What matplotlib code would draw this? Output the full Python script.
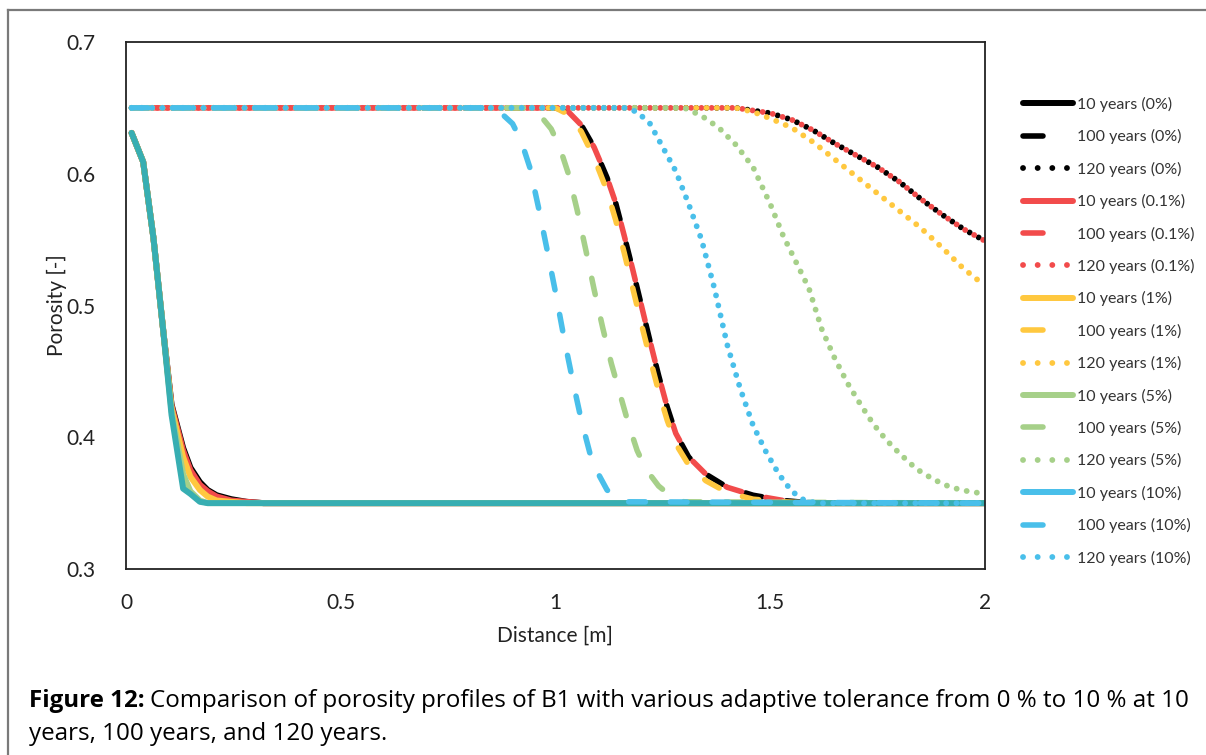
import matplotlib
matplotlib.use("Agg")
import matplotlib.pyplot as plt
from matplotlib.lines import Line2D

# ---------------- data ----------------
# 10 years
x_10yr = [0.013, 0.04, 0.064, 0.087, 0.106, 0.133, 0.15, 0.172, 0.19, 0.211, 0.245, 0.281, 0.32, 2.0]
y_10yr_0 = [0.631, 0.609, 0.551, 0.48, 0.425, 0.392, 0.377, 0.366, 0.36, 0.356, 0.353, 0.351, 0.35, 0.35]
y_10yr_01 = [0.631, 0.609, 0.551, 0.48, 0.424, 0.39, 0.375, 0.364, 0.359, 0.355, 0.352, 0.351, 0.35, 0.35]
y_10yr_1 = [0.631, 0.609, 0.551, 0.48, 0.422, 0.385, 0.37, 0.36, 0.355, 0.352, 0.351, 0.35, 0.35, 0.35]
y_10yr_5 = [0.631, 0.609, 0.551, 0.48, 0.42, 0.372, 0.359, 0.352, 0.35, 0.35, 0.35, 0.35, 0.35, 0.35]
y_10yr_10 = [0.631, 0.609, 0.551, 0.48, 0.417, 0.361, 0.357, 0.351, 0.35, 0.35, 0.35, 0.35, 0.35, 0.35]

# 100 years
x_100yr_0 = [0.013, 1.0, 1.03, 1.06, 1.09, 1.12, 1.14, 1.16, 1.18, 1.20, 1.22, 1.24, 1.26, 1.28, 1.31, 1.35, 1.40, 1.46, 1.53, 1.60, 2.0]
y_100yr_0 = [0.65, 0.65, 0.647, 0.637, 0.62, 0.597, 0.578, 0.553, 0.527, 0.5, 0.473, 0.447, 0.423, 0.403, 0.385, 0.372, 0.362, 0.356, 0.352, 0.35, 0.35]
y_100yr_01 = [0.65, 0.65, 0.647, 0.637, 0.62, 0.597, 0.578, 0.553, 0.527, 0.5, 0.473, 0.447, 0.423, 0.403, 0.385, 0.372, 0.362, 0.356, 0.352, 0.35, 0.35]
y_100yr_1 = [0.65, 0.65, 0.645, 0.632, 0.612, 0.587, 0.565, 0.54, 0.513, 0.486, 0.46, 0.435, 0.413, 0.395, 0.379, 0.367, 0.358, 0.353, 0.351, 0.35, 0.35]
x_100yr_5 = [0.013, 0.93, 0.96, 0.99, 1.01, 1.03, 1.05, 1.07, 1.09, 1.11, 1.13, 1.15, 1.17, 1.19, 1.21, 1.24, 1.27, 1.30, 2.0]
y_100yr_5 = [0.65, 0.65, 0.646, 0.634, 0.62, 0.6, 0.573, 0.543, 0.512, 0.483, 0.456, 0.433, 0.41, 0.39, 0.376, 0.363, 0.355, 0.351, 0.35]
x_100yr_10 = [0.013, 0.84, 0.87, 0.90, 0.92, 0.94, 0.96, 0.98, 1.00, 1.02, 1.04, 1.06, 1.08, 1.10, 1.12, 1.14, 1.16, 2.0]
y_100yr_10 = [0.65, 0.65, 0.647, 0.638, 0.625, 0.605, 0.575, 0.543, 0.51, 0.475, 0.443, 0.413, 0.388, 0.372, 0.36, 0.354, 0.351, 0.35]

# 120 years
x_120yr_0 = [0.013, 1.42, 1.46, 1.50, 1.55, 1.60, 1.65, 1.70, 1.75, 1.80, 1.85, 1.90, 1.95, 2.0]
y_120yr_0 = [0.65, 0.65, 0.648, 0.646, 0.641, 0.633, 0.623, 0.614, 0.605, 0.594, 0.581, 0.569, 0.558, 0.549]
y_120yr_01 = [0.65, 0.65, 0.648, 0.646, 0.641, 0.633, 0.623, 0.614, 0.605, 0.594, 0.581, 0.569, 0.558, 0.549]
y_120yr_1 = [0.65, 0.65, 0.647, 0.642, 0.635, 0.624, 0.611, 0.598, 0.585, 0.572, 0.559, 0.544, 0.528, 0.515]
x_120yr_5 = [0.013, 1.30, 1.34, 1.38, 1.42, 1.46, 1.50, 1.53, 1.56, 1.59, 1.62, 1.65, 1.68, 1.71, 1.74, 1.77, 1.80, 1.84, 1.88, 1.92, 1.96, 2.0]
y_120yr_5 = [0.65, 0.65, 0.644, 0.635, 0.622, 0.605, 0.577, 0.553, 0.533, 0.513, 0.482, 0.46, 0.441, 0.425, 0.41, 0.398, 0.388, 0.376, 0.368, 0.362, 0.359, 0.357]
x_120yr_10 = [0.013, 1.16, 1.19, 1.22, 1.25, 1.28, 1.31, 1.34, 1.37, 1.40, 1.43, 1.46, 1.49, 1.52, 1.55, 1.58, 1.61, 2.0]
y_120yr_10 = [0.65, 0.65, 0.647, 0.638, 0.62, 0.602, 0.577, 0.55, 0.513, 0.47, 0.437, 0.409, 0.389, 0.372, 0.359, 0.352, 0.35, 0.35]

tolerances = ["0%", "0.1%", "1%", "5%", "10%"]
years = ["10 years", "100 years", "120 years"]
x_ticks = [0, 0.5, 1, 1.5, 2]
x_tick_labels = ["0", "0.5", "1", "1.5", "2"]
y_ticks = [0.3, 0.4, 0.5, 0.6, 0.7]
y_tick_labels = ["0.3", "0.4", "0.5", "0.6", "0.7"]

series = {
    "0%": [(x_10yr, y_10yr_0), (x_100yr_0, y_100yr_0), (x_120yr_0, y_120yr_0)],
    "0.1%": [(x_10yr, y_10yr_01), (x_100yr_0, y_100yr_01), (x_120yr_0, y_120yr_01)],
    "1%": [(x_10yr, y_10yr_1), (x_100yr_0, y_100yr_1), (x_120yr_0, y_120yr_1)],
    "5%": [(x_10yr, y_10yr_5), (x_100yr_5, y_100yr_5), (x_120yr_5, y_120yr_5)],
    "10%": [(x_10yr, y_10yr_10), (x_100yr_10, y_100yr_10), (x_120yr_10, y_120yr_10)],
}

# ---------------- styles ----------------
colors = {"0%": "#000000", "0.1%": "#F24B4B", "1%": "#FFC83F", "5%": "#A6D089", "10%": "#49BFEA"}
plot_override = {("10%", 0): "#37AEB2"}  # overlap of blue over green renders teal in the original
W, H = 1206, 755
FONT = "Lato"
lw_solid, lw_dash, lw_dot = 4.3, 4.0, 4.2
dash_on, dash_off = 3.0, 4.5
dot_gap = 1.75

fig = plt.figure(figsize=(W / 100, H / 100), dpi=100)
ax = fig.add_axes([126 / W, 1 - 569 / H, (985 - 126) / W, (569 - 42) / H])

handles, labels = [], []
for tol in tolerances:
    for i, (xs, ys) in enumerate(series[tol]):
        c = plot_override.get((tol, i), colors[tol])
        shift = 0.5 if tol == "0.1%" else 0.0  # red dashes/dots interleave with the black ones
        if i == 0:
            ax.plot(xs, ys, color=c, lw=lw_solid, solid_capstyle="round", solid_joinstyle="round")
            h = Line2D([], [], color=colors[tol], lw=lw_solid, solid_capstyle="round")
        elif i == 1:
            ax.plot(xs, ys, color=c, lw=lw_dash,
                    linestyle=(shift * (dash_on + dash_off), (dash_on, dash_off)),
                    dash_capstyle="round")
            h = Line2D([], [], color=colors[tol], lw=lw_dash, linestyle=(0, (3.6, 9.0)), dash_capstyle="round")
        else:
            ax.plot(xs, ys, color=c, lw=lw_dot,
                    linestyle=(shift * (dot_gap + 0.01), (0.01, dot_gap)),
                    dash_capstyle="round")
            h = Line2D([], [], color=colors[tol], lw=lw_dot, linestyle=(0, (0.01, 2.5)), dash_capstyle="round")
        handles.append(h)
        labels.append(f"{years[i]} ({tol})")

ax.set_xlim(0, 2)
ax.set_ylim(0.3, 0.7)
ax.set_xticks(x_ticks)
ax.set_xticklabels(x_tick_labels)
ax.set_yticks(y_ticks)
ax.set_yticklabels(y_tick_labels)
ax.tick_params(length=0, labelsize=15, colors="#222222")
ax.tick_params(axis="x", pad=17)
ax.tick_params(axis="y", pad=22)
for lab in ax.get_xticklabels() + ax.get_yticklabels():
    lab.set_family(FONT)
for s in ax.spines.values():
    s.set_color("#222222")
    s.set_linewidth(1.3)

fig.text(555 / W, 1 - 636 / H, "Distance [m]", ha="center", va="center", fontsize=15, family=FONT, color="#222222")
fig.text(57 / W, 1 - 305 / H, "Porosity [-]", ha="center", va="center", rotation=90, fontsize=15, family=FONT, color="#222222")

leg = fig.legend(handles, labels, loc="upper left", bbox_to_anchor=(1023 / W, 1 - 97 / H),
                 frameon=False, prop={"family": FONT, "size": 11.5}, handlelength=3.1,
                 handletextpad=0.25, labelspacing=1.085, borderpad=0, borderaxespad=0)
for t in leg.get_texts():
    t.set_color("#333333")

# outer frame
fig.add_artist(Line2D([8 / W, 8 / W], [0, 1 - 10 / H], transform=fig.transFigure, color="#7a7a7a", lw=1.6))
fig.add_artist(Line2D([8 / W, 1], [1 - 10 / H, 1 - 10 / H], transform=fig.transFigure, color="#7a7a7a", lw=1.6))

# caption (auto-fit width)
CAP_FONT = "Open Sans"
cap_bold = "Figure 12:"
cap_rest = "Comparison of porosity profiles of B1 with various adaptive tolerance from 0 % to 10 % at 10"
cap_line2 = "years, 100 years, and 120 years."
x_left, x_right = 29, 1192
r = fig.canvas.get_renderer()


def place(fs):
    t1 = fig.text(x_left / W, 1 - 707 / H, cap_bold, fontsize=fs, fontweight="bold", family=CAP_FONT, va="baseline")
    b1 = t1.get_window_extent(r)
    t2 = fig.text((b1.x1 + fs * 0.3) / W, 1 - 707 / H, cap_rest, fontsize=fs, family=CAP_FONT, va="baseline")
    t3 = fig.text(x_left / W, 1 - 740 / H, cap_line2, fontsize=fs, family=CAP_FONT, va="baseline")
    return t1, t2, t3


fs0 = 14.0
ts = place(fs0)
w = ts[1].get_window_extent(r).x1 - x_left
for t in ts:
    t.remove()
place(fs0 * (x_right - x_left) / w)

fig.savefig("out.png", dpi=100)
